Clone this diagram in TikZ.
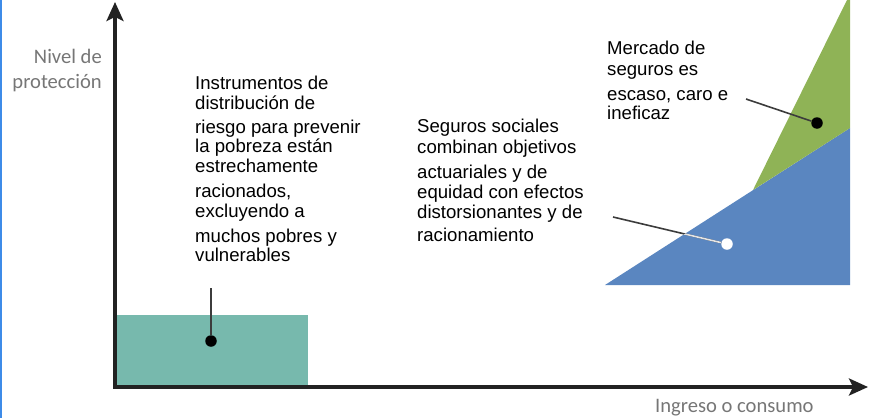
\documentclass[tikz,border=0pt]{standalone}
\usepackage{fontspec}
\setmainfont{Liberation Sans}
\newfontfamily\labelfont{Carlito}
\usetikzlibrary{arrows.meta, positioning}
\definecolor{axisgray}{HTML}{222222}
\definecolor{labelgray}{HTML}{767676}
\definecolor{leadgray}{HTML}{3C3C3C}
\definecolor{edgeblue}{HTML}{3D8BE8}
\definecolor{tealbox}{HTML}{77B9AD}
\definecolor{bluearea}{HTML}{5A86C0}
\definecolor{greenarea}{HTML}{8FB356}

\begin{document}
\begin{tikzpicture}[x=1pt, y=-1pt,
  axis/.style={axisgray, line width=3.2pt, -{Stealth[length=19pt, width=17pt, inset=4pt]}},
  note/.style={anchor=base west, align=left, inner sep=0pt, font=\fontsize{18.6}{19.5}\selectfont},
  axislabel/.style={labelgray, inner sep=0pt, font=\labelfont\fontsize{20.6}{25}\selectfont},
  dot/.style={circle, inner sep=0pt, minimum size=11.5pt, fill=black},
  lead/.style={leadgray, line width=1.6pt}]
\useasboundingbox (0,0) rectangle (869,418);
\draw[edgeblue, line width=1.5pt] (0.75,0) -- (0.75,418);

% areas
\fill[tealbox] (116,315) rectangle (308,386);
\fill[bluearea] (605,285) -- (850,128) -- (850,285) -- cycle;
\fill[greenarea] (753,190) -- (847,0) -- (850,0) -- (850,128) -- cycle;

% axes
\coordinate (o) at (115,387);
\coordinate (ytop) at (115,2);
\coordinate (xend) at (868,387);
\draw[axis] ([yshift=1.6pt]o) -- (ytop);
\draw[axis] ([xshift=-1.6pt]o) -- (xend);
% multi-line nodes: base is the last line
\node[axislabel, anchor=base east, align=right] (ylab) at (102,88) {Nivel de\\protección};
\node[axislabel, anchor=base west] (xlab) at (655,412) {Ingreso o consumo};

% notes
\node[note] (n1) at (195,261.7) {Instrumentos de\\distribución de\\[4.5pt]riesgo para prevenir\\la pobreza están\\estrechamente\\[6pt]racionados,\\excluyendo a\\[5.5pt]muchos pobres y\\vulnerables};
\node[note] (n2) at (417,241) {Seguros sociales\\[1.5pt]combinan objetivos\\[5.5pt]actuariales y de\\equidad con efectos\\[0.5pt]distorsionantes y de\\[3.5pt]racionamiento};
\node[note] (n3) at (607,119.3) {Mercado de\\[1.5pt]seguros es\\[6pt]escaso, caro e\\[-1pt]ineficaz};

% leaders and dots
\coordinate (t1) at (211,288);
\coordinate (t2) at (746,99);
\coordinate (t3) at (613,217);
\node[dot] (d1) at (211,341) {};
\node[dot] (d2) at (817,123) {};
\node[dot, fill=white] (d3) at (727,244) {};
\draw[lead] (t1) -- (d1);
\draw[lead] (t2) -- (d2);
\draw[lead] (t3) -- (d3);
\begin{scope}
\clip (605,285) -- (850,128) -- (850,285) -- cycle;
\draw[lead, white!90!black] (t3) -- (d3);
\end{scope}
\end{tikzpicture}
\end{document}
